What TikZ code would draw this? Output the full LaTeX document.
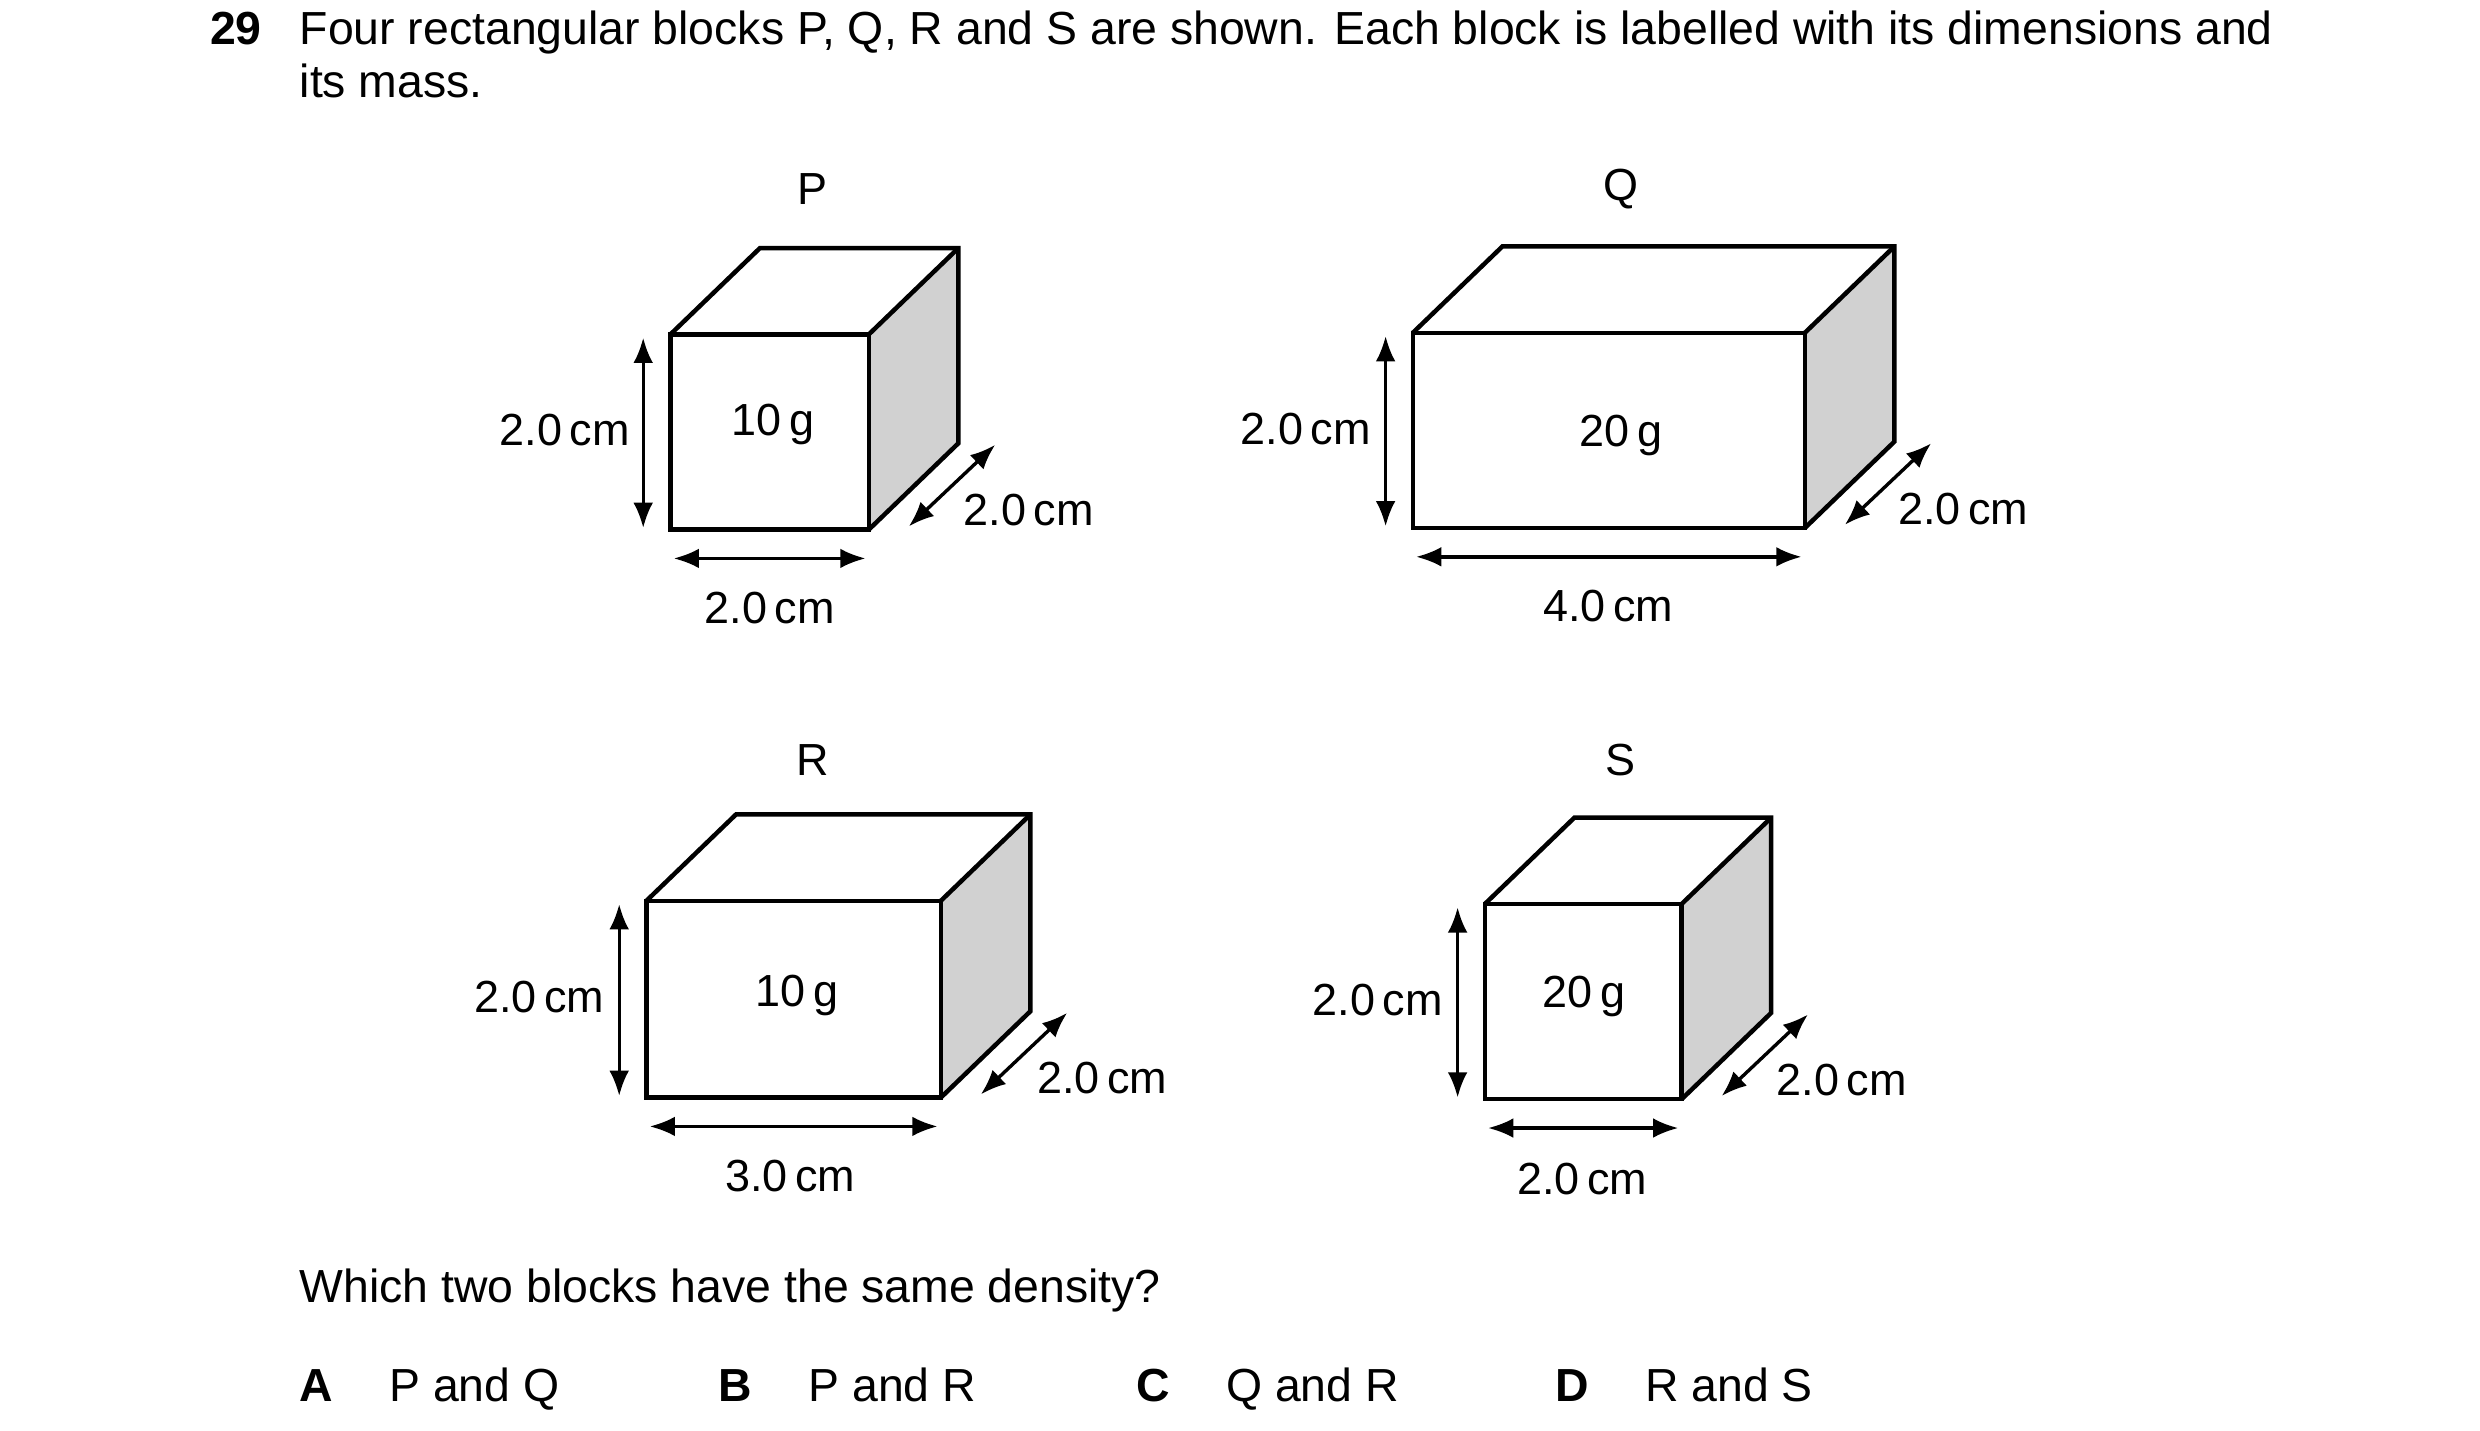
\documentclass[tikz,border=0pt]{standalone}
\usepackage{fontspec}
\setmainfont{Liberation Sans}
\usetikzlibrary{arrows.meta}

% one block: name, front face corners (x1,y1) and (x2,y2)
\newcommand{\cuboid}[5]{%
  \coordinate (#1a) at (#2,#3);
  \coordinate (#1b) at (#4,#3);
  \coordinate (#1c) at (#4,#5);
  \coordinate (#1d) at (#2,#5);
  \fill[sidegrey] (#1b) -- ++(56,-54) -- ++(0,#5-#3) -- (#1c) -- cycle;
  \draw[edge] (#1a) -- ++(56,-54) -- ++(#4-#2,0) -- ++(0,#5-#3) -- (#1c);
  \draw[edge] (#1b) -- ++(56,-54);
  \draw[edge] (#1a) rectangle (#1c);
  % dimension arrows
  \coordinate (#1h1) at (#2-17,#3+2);
  \coordinate (#1h2) at (#2-17,#5-1);
  \coordinate (#1w1) at (#2+2,#5+18);
  \coordinate (#1w2) at (#4-2,#5+18);
  \coordinate (#1d1) at (#4+25,#5-2);
  \coordinate (#1d2) at (#4+79,#5-53);
  \draw[dim] (#1h1) -- (#1h2);
  \draw[dim] (#1w1) -- (#1w2);
  \draw[dim] (#1d1) -- (#1d2);
}

\tikzset{
  edge/.style={line width=1.6pt, line join=miter},
  dim/.style={line width=1.2pt, {Latex[length=9pt,width=7pt]}-{Latex[length=9pt,width=7pt]}},
  txt/.style={font=\fontsize{16.5}{19}\selectfont, inner sep=0pt},
  lab/.style={font=\fontsize{16}{19}\selectfont, inner sep=0pt},
}
\colorlet{sidegrey}{black!18}

\begin{document}
\begin{tikzpicture}[x=0.02cm,y=-0.02cm]
\useasboundingbox (0,0) rectangle (1550,894);

\node[txt, anchor=base west] (num) at (131,28) {\textbf{29}};
\node[txt, anchor=base west] (q1) at (187,28) {Four rectangular blocks P, Q, R and S are shown. Each block is labelled with its dimensions and};
\node[txt, anchor=base west] (q2) at (187,61) {its mass.};

% P
\cuboid{P}{419}{209}{543}{331}
\node[lab] (labP) at (508,118) {P};
\node[lab] (massP) at (483,265) {10\,g};
\node[lab, anchor=east] (hP) at (394,269) {2.0\,cm};
\node[lab] (wP) at (481,380) {2.0\,cm};
\node[lab, anchor=west] (dP) at (602,319) {2.0\,cm};

% Q
\cuboid{Q}{883}{208}{1128}{330}
\node[lab] (labQ) at (1013,118) {Q};
\node[lab] (massQ) at (1013,272) {20\,g};
\node[lab, anchor=east] (hQ) at (857,268) {2.0\,cm};
\node[lab] (wQ) at (1005,379) {4.0\,cm};
\node[lab, anchor=west] (dQ) at (1186,318) {2.0\,cm};

% R
\cuboid{R}{404}{563}{588}{686}
\node[lab] (labR) at (508,475) {R};
\node[lab] (massR) at (498,622) {10\,g};
\node[lab, anchor=east] (hR) at (378,623) {2.0\,cm};
\node[lab] (wR) at (494,735) {3.0\,cm};
\node[lab, anchor=west] (dR) at (648,674) {2.0\,cm};

% S
\cuboid{S}{928}{565}{1051}{687}
\node[lab] (labS) at (1013,475) {S};
\node[lab] (massS) at (990,623) {20\,g};
\node[lab, anchor=east] (hS) at (902,625) {2.0\,cm};
\node[lab] (wS) at (989,737) {2.0\,cm};
\node[lab, anchor=west] (dS) at (1110,675) {2.0\,cm};

\node[txt, anchor=base west] (ask) at (187,814) {Which two blocks have the same density?};
\node[txt, anchor=base west] (optA) at (187,876) {\textbf{A}};
\node[txt, anchor=base west] (ansA) at (243,876) {P and Q};
\node[txt, anchor=base west] (optB) at (449,876) {\textbf{B}};
\node[txt, anchor=base west] (ansB) at (505,876) {P and R};
\node[txt, anchor=base west] (optC) at (710,876) {\textbf{C}};
\node[txt, anchor=base west] (ansC) at (766,876) {Q and R};
\node[txt, anchor=base west] (optD) at (972,876) {\textbf{D}};
\node[txt, anchor=base west] (ansD) at (1028,876) {R and S};
\end{tikzpicture}
\end{document}
